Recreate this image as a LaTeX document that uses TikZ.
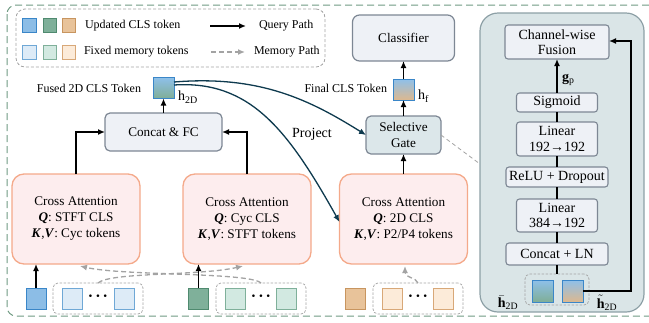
\documentclass[tikz,border=0pt]{standalone}
\usepackage{fontspec}
\setmainfont{Liberation Serif}
\usetikzlibrary{arrows.meta,calc}
\definecolor{bluU}{HTML}{8CBDE6}
\definecolor{bluUd}{HTML}{3A86C8}
\definecolor{bluF}{HTML}{DDEBF7}
\definecolor{bluFd}{HTML}{6FA8D6}
\definecolor{grnU}{HTML}{7FB09A}
\definecolor{grnUd}{HTML}{4F8A6F}
\definecolor{grnF}{HTML}{D2E9E1}
\definecolor{grnFd}{HTML}{7FB09A}
\definecolor{orU}{HTML}{E8C39A}
\definecolor{orUd}{HTML}{C8955F}
\definecolor{orF}{HTML}{FCEBD9}
\definecolor{orFd}{HTML}{D8A878}
\definecolor{caF}{HTML}{FDEDEE}
\definecolor{caD}{HTML}{F4A98A}
\definecolor{boxF}{HTML}{EEF1F6}
\definecolor{boxD}{HTML}{7D8794}
\definecolor{sgF}{HTML}{DCE7EA}
\definecolor{panF}{HTML}{DAE5E7}
\definecolor{panD}{HTML}{8DA0A6}
\definecolor{outD}{HTML}{6F9A82}
\definecolor{memD}{HTML}{A3A3A3}
\definecolor{curv}{HTML}{0E3A4E}
\definecolor{shB}{HTML}{8EC0EA}
\definecolor{shG}{HTML}{7FAE96}
\definecolor{shO}{HTML}{DDB88E}
\newcommand{\hlab}[2]{{\fontsize{14}{14}\selectfont #1}\raisebox{-3pt}{\fontsize{10}{10}\selectfont #2}}
\newcommand{\tdots}{{\fontsize{16}{16}\selectfont\textbf{·\hspace{2pt}·\hspace{2pt}·}}}
\begin{document}
\begin{tikzpicture}[x=1pt,y=-1pt,
  every node/.style={inner sep=0pt, outer sep=0pt},
  tok/.style={draw, line width=0.9pt, minimum width=20pt, minimum height=21pt},
  lsq/.style={draw, line width=0.9pt, minimum width=13.5pt, minimum height=14pt},
  grp/.style={draw=memD, dashed, dash pattern=on 2.5pt off 1.5pt, line width=0.7pt, rounded corners=5pt, minimum width=90pt, minimum height=31pt},
  cabox/.style={draw=caD, fill=caF, line width=1.3pt, rounded corners=12pt, minimum width=128pt, minimum height=90pt, align=center, font=\fontsize{13.2}{16}\selectfont},
  gbox/.style={draw=boxD, fill=boxF, line width=1.2pt, rounded corners=5pt, align=center, font=\fontsize{13.2}{16}\selectfont},
  pbox/.style={draw=boxD, fill=boxF, line width=1.1pt, rounded corners=3pt, align=center, font=\fontsize{14}{15.5}\selectfont},
  qarr/.style={line width=1.4pt, -{Latex[length=7pt,width=6pt]}},
  plink/.style={line width=1.3pt},
  marr/.style={draw=memD, line width=1.3pt, dash pattern=on 5pt off 3pt, -{Latex[length=7pt,width=6pt]}},
  carr/.style={draw=curv, line width=1.3pt, -{Latex[length=7pt,width=6pt]}},
  txt/.style={font=\fontsize{12}{14}\selectfont}
]
\useasboundingbox (0,0) rectangle (649,322);
% outer dashed frame
\draw[draw=outD, line width=1pt, dash pattern=on 7pt off 4pt, rounded corners=9pt] (7,5) rectangle (660,316);
% legend
\node[draw=memD, dash pattern=on 3pt off 2pt, line width=0.8pt, rounded corners=9pt, minimum width=309pt, minimum height=58pt] (leg) at (170.5,38) {};
\node[lsq, draw=bluUd, fill=bluU] (l1) at (29.5,25.5) {};
\node[lsq, draw=grnUd, fill=grnU] (l2) at (50,25.5) {};
\node[lsq, draw=orUd, fill=orU] (l3) at (69,25.5) {};
\node[lsq, draw=bluFd, fill=bluF] (l4) at (29.5,52) {};
\node[lsq, draw=grnFd, fill=grnF] (l5) at (50,52) {};
\node[lsq, draw=orFd, fill=orF] (l6) at (69,52) {};
\node[txt, anchor=west] (lt1) at (85,25.5) {Updated CLS token};
\node[txt, anchor=west] (lt2) at (84,52) {Fixed memory tokens};
\coordinate (qa) at (210,26); \coordinate (qb) at (246,26);
\coordinate (ma) at (211,52); \coordinate (mb) at (245,52);
\draw[qarr] (qa) -- (qb);
\draw[marr] (ma) -- (mb);
\node[txt, anchor=west] (lt3) at (259,26) {Query Path};
\node[txt, anchor=west] (lt4) at (254,52) {Memory Path};
% main boxes
\node[cabox] (ca1) at (76,219) {Cross Attention\\\textbf{\textit{Q}}: STFT CLS\\\textbf{\textit{K}},\textbf{\textit{V}}: Cyc tokens};
\node[cabox] (ca2) at (247,219) {Cross Attention\\\textbf{\textit{Q}}: Cyc CLS\\\textbf{\textit{K}},\textbf{\textit{V}}: STFT tokens};
\node[cabox] (ca3) at (403.5,219) {Cross Attention\\\textbf{\textit{Q}}: 2D CLS\\\textbf{\textit{K}},\textbf{\textit{V}}: P2/P4 tokens};
\node[gbox, minimum width=117pt, minimum height=38pt] (concat) at (163.5,132) {Concat \& FC};
\node[gbox, fill=sgF, minimum width=75pt, minimum height=38pt] (sg) at (403.5,135) {Selective\\Gate};
\node[gbox, minimum width=102pt, minimum height=46pt, rounded corners=7pt] (cls) at (403.5,38) {Classifier};
\node[draw=bluUd, line width=0.9pt, minimum width=21pt, minimum height=21pt, top color=shB, bottom color=shG] (h2d) at (163.5,88) {};
\node[draw=bluUd, line width=0.9pt, minimum width=21pt, minimum height=21pt, top color=shB, middle color=shG, bottom color=shO] (hf) at (403.5,89.5) {};
\node[txt, anchor=east] (fusedlab) at (141,88) {Fused 2D CLS Token};
\node[txt, anchor=east] (finallab) at (387,88) {Final CLS Token};
\node[anchor=west] (h2dlab) at (178,97) {\hlab{h}{2D}};
\node[anchor=west] (hflab) at (418,96) {\hlab{h}{f}};
\node[font=\fontsize{14}{16}\selectfont] (proj) at (312,134) {Project};
% token rows
\node[tok, draw=bluUd, fill=bluU] (bc) at (36,298.5) {};
\node[grp] (bg) at (98,298.5) {};
\node[tok, draw=bluFd, fill=bluF] (b1) at (72,298.5) {};
\node[tok, draw=bluFd, fill=bluF] (b2) at (124,298.5) {};
\node (bd) at (98,298.5) {\tdots};
\node[tok, draw=grnUd, fill=grnU] (gc) at (198.5,298.5) {};
\node[grp] (gg) at (261,298.5) {};
\node[tok, draw=grnFd, fill=grnF] (g1) at (235,298.5) {};
\node[tok, draw=grnFd, fill=grnF] (g2) at (286.5,298.5) {};
\node (gd) at (261,298.5) {\tdots};
\node[tok, draw=orUd, fill=orU] (oc) at (355.5,298.5) {};
\node[grp] (og) at (418,298.5) {};
\node[tok, draw=orFd, fill=orF] (o1) at (392.5,298.5) {};
\node[tok, draw=orFd, fill=orF] (o2) at (443.5,298.5) {};
\node (od) at (418,298.5) {\tdots};
% main connectors
\draw[qarr] (bc.north) -- (bc.north |- ca1.south);
\draw[qarr] (gc.north) -- (gc.north |- ca2.south);
\draw[qarr] (ca1.north) |- (concat.west);
\draw[qarr] (ca2.north) |- (concat.east);
\draw[qarr] (concat.north) -- (h2d.south);
\draw[qarr] (ca3.north) -- (sg.south);
\draw[qarr] (sg.north) -- (hf.south);
\draw[qarr] (hf.north) -- (cls.south);
\draw[carr] ($(h2d.east)+(0,-6)$) .. controls (260,75) and (310,100) .. (sg.west);
\draw[carr] ($(h2d.east)+(0,-3)$) .. controls (250,80) and (288,130) .. ($(ca3.west)+(0,3)$);
% memory paths
\draw[marr] (bg.north) .. controls (110,272) and (200,276) .. ($(ca2.south)+(-4,2)$);
\draw[marr] (gg.north) .. controls (249,272) and (123,276) .. ($(ca1.south)+(4,2)$);
\draw[marr] (og.north) .. controls (416,277) and (405,278) .. ($(ca3.south)+(1.5,2)$);
% panel
\node[draw=panD, fill=panF, line width=1.2pt, rounded corners=18pt, minimum width=164pt, minimum height=299pt] (panel) at (562,162.5) {};
\coordinate (pz) at (480,164);
\draw[draw=memD, line width=0.8pt, dash pattern=on 4pt off 3pt] (sg.east) -- (pz);
\node[pbox, minimum width=104pt, minimum height=34pt] (fus) at (557,42) {Channel-wise\\Fusion};
\node[pbox, minimum width=81pt, minimum height=19pt] (sig) at (557,102.5) {Sigmoid};
\node[pbox, minimum width=81pt, minimum height=34pt] (lin1) at (557,139) {Linear\\192→192};
\node[pbox, minimum width=102pt, minimum height=20pt] (relu) at (557,177) {ReLU + Dropout};
\node[pbox, minimum width=81pt, minimum height=33pt] (lin2) at (557,215.5) {Linear\\384→192};
\node[pbox, minimum width=102pt, minimum height=22pt] (cln) at (557,254) {Concat + LN};
\node[grp, minimum width=64pt, minimum height=31pt] (pg) at (557,289.5) {};
\node[draw=bluUd, line width=0.9pt, minimum width=21pt, minimum height=22pt, top color=shB, bottom color=shG] (ps1) at (542.5,291) {};
\node[draw=bluUd, line width=0.9pt, minimum width=21pt, minimum height=22pt, top color=shB, middle color=shG, bottom color=shO] (ps2) at (572.5,291) {};
\node (hbar) at (508,303) {\fontsize{14}{14}\selectfont$\bar{\mathbf{h}}_{\mathrm{2D}}$};
\node (htil) at (607,303) {\fontsize{14}{14}\selectfont$\tilde{\mathbf{h}}_{\mathrm{2D}}$};
\node[anchor=west] (gp) at (562,80) {\fontsize{14}{14}\selectfont$\mathbf{g}_{\mathrm{p}}$};
\draw[qarr] (sig.north) -- (fus.south);
\draw[plink] (lin1.north) -- (sig.south);
\draw[plink] (relu.north) -- (lin1.south);
\draw[plink] (lin2.north) -- (relu.south);
\draw[plink] (cln.north) -- (lin2.south);
\draw[plink] (pg.north) -- (cln.south);
\coordinate (lp1) at (631,291);
\coordinate (lp2) at (631,41);
\draw[qarr] (ps2.east) -- (lp1) -- (lp2) -- (fus.east |- lp2);
\end{tikzpicture}
\end{document}
